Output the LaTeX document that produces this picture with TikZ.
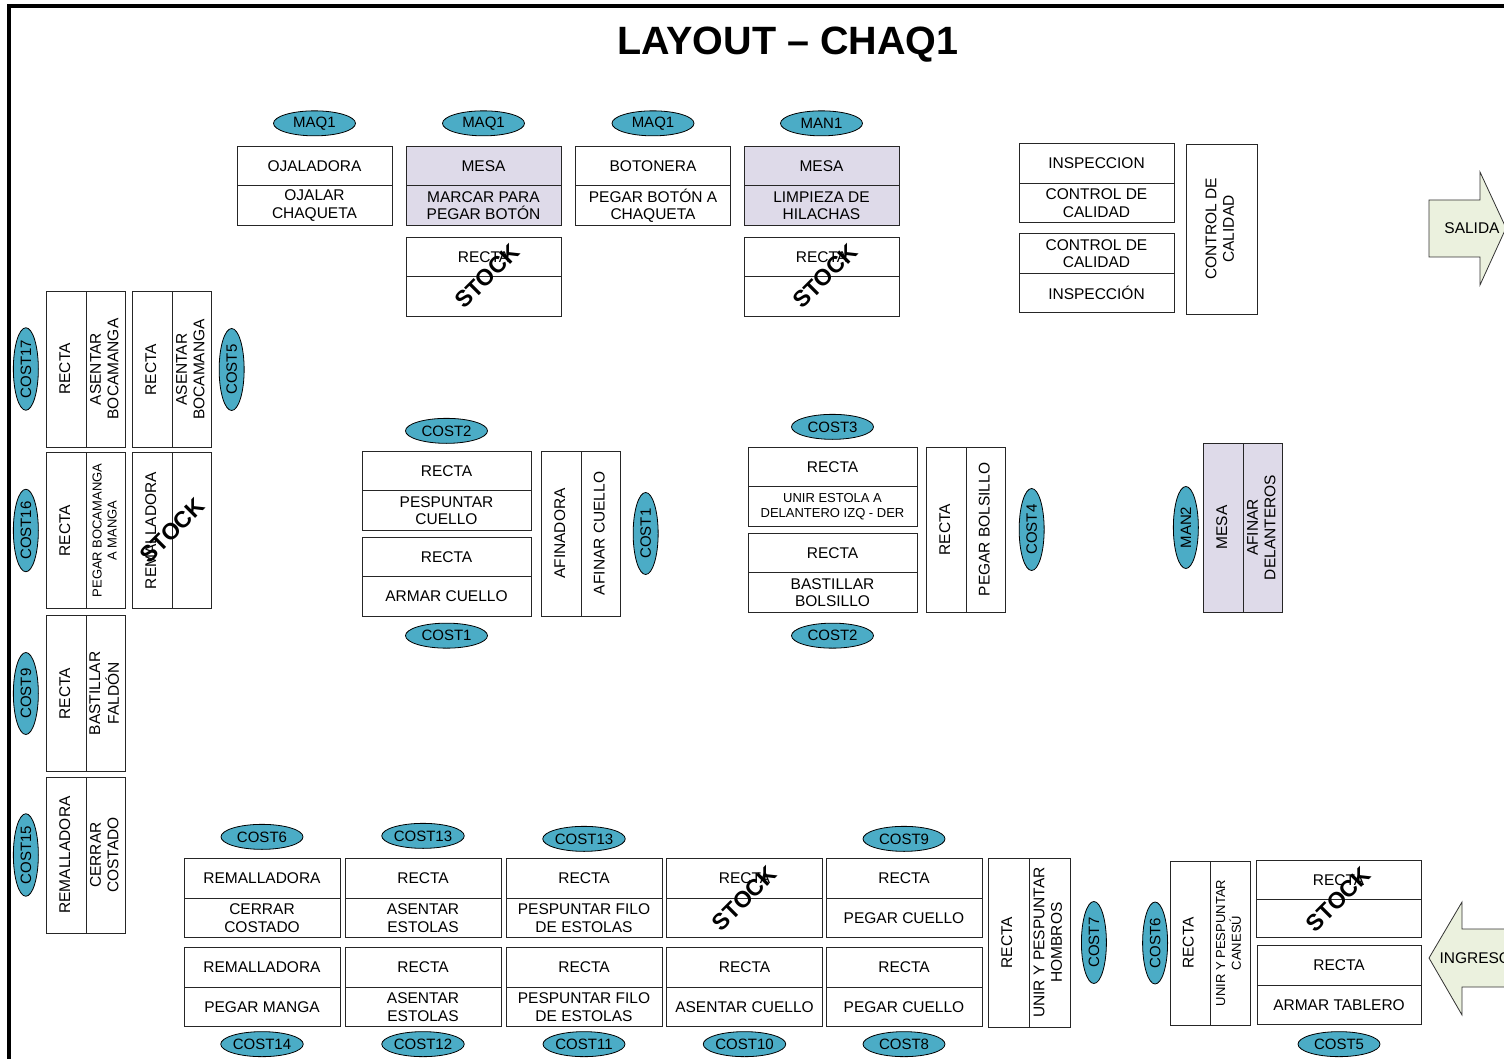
\documentclass[tikz,border=0pt]{standalone}
\usepackage{fontspec}
\setmainfont{Liberation Sans}
\usepackage{graphicx}
\usetikzlibrary{positioning,shapes.geometric}

\definecolor{maq}{RGB}{75,172,198}
\definecolor{lila}{RGB}{222,218,233}
\definecolor{flecha}{RGB}{235,241,222}

\newcommand{\vtexto}[1]{\rotatebox{90}{\begin{tabular}{@{}c@{}}#1\end{tabular}}}

\tikzset{
  caja/.style={draw=black!85, line width=0.8pt, minimum width=#1, minimum height=39.5pt,
    inner sep=0pt, outer sep=0pt, align=center, font=\fontsize{15.5}{17.5}\selectfont},
  caja/.default=155pt,
  vcaja/.style={draw=black!85, line width=0.8pt, minimum width=39.5pt, minimum height=#1,
    inner sep=0pt, outer sep=0pt, font=\fontsize{15.5}{17.5}\selectfont},
  vcaja/.default=156pt,
  maquina/.style={ellipse, draw, line width=0.8pt, fill=maq, minimum width=82pt,
    minimum height=25pt, inner sep=0pt, font=\fontsize{15}{15}\selectfont},
  vmaquina/.style={maquina, minimum width=25pt, minimum height=82pt},
  stock/.style={rotate=45, inner sep=0pt, font=\fontsize{23}{23}\selectfont\bfseries},
  chico/.style={font=\fontsize{13}{15}\selectfont}
}

\begin{document}
\begin{tikzpicture}[x=1pt, y=-1pt]
  \useasboundingbox (0,0) rectangle (1504,1059);
  \clip (0,0) rectangle (1504,1059);

  % Marco y titulo
  \draw[line width=3.5pt] (9,1070) -- (9,6) -- (1520,6);
  \node[anchor=base, font=\fontsize{39.5}{40}\selectfont\bfseries] (titulo) at (788,55) {LAYOUT – CHAQ1};

  % Fila superior
  \node[caja] (ojal-a) at (314.5,166) {OJALADORA};
  \node[caja, below=0pt of ojal-a] (ojal-b) {OJALAR\\CHAQUETA};
  \node[maquina, above=10pt of ojal-a] (m-ojal) {MAQ1};

  \node[caja, fill=lila] (marc-a) at (483.5,166) {MESA};
  \node[caja, fill=lila, below=0pt of marc-a] (marc-b) {MARCAR PARA\\PEGAR BOTÓN};
  \node[maquina, above=10pt of marc-a] (m-marc) {MAQ1};

  \node[caja] (boto-a) at (653,166) {BOTONERA};
  \node[caja, below=0pt of boto-a] (boto-b) {PEGAR BOTÓN A\\CHAQUETA};
  \node[maquina, above=10pt of boto-a] (m-boto) {MAQ1};

  \node[caja, fill=lila] (limp-a) at (821.5,166) {MESA};
  \node[caja, fill=lila, below=0pt of limp-a] (limp-b) {LIMPIEZA DE\\HILACHAS};
  \node[maquina, above=10pt of limp-a] (m-limp) {MAN1};

  % Stock debajo de las mesas
  \node[caja] (stk1-a) at (483.5,257) {RECTA};
  \node[caja, below=0pt of stk1-a] (stk1-b) {};
  \node[stock, xshift=3pt, yshift=-2pt] (stk1) at (stk1-a.south) {STOCK};
  \node[caja] (stk2-a) at (821.5,257) {RECTA};
  \node[caja, below=0pt of stk2-a] (stk2-b) {};
  \node[stock, xshift=3pt, yshift=-2pt] (stk2) at (stk2-a.south) {STOCK};

  % Inspeccion y control de calidad
  \node[caja] (insp1-a) at (1096.5,163.5) {INSPECCION};
  \node[caja, below=0pt of insp1-a] (insp1-b) {CONTROL DE\\CALIDAD};
  \node[caja] (insp2-a) at (1096.5,253.5) {CONTROL DE\\CALIDAD};
  \node[caja, below=0pt of insp2-a] (insp2-b) {INSPECCIÓN};
  \node[vcaja=170pt, minimum width=71pt] (ctrl) at (1221.5,229) {\vtexto{CONTROL DE\\CALIDAD}};

  % Salida
  \draw[fill=flecha, draw=black!80, line width=0.8pt] (1429,200) -- (1480,200) -- (1480,172) -- (1506,228)
    -- (1480,285) -- (1480,257) -- (1429,257) -- cycle;
  \node[font=\fontsize{15.5}{17}\selectfont] (salida) at (1472,228) {SALIDA};

  % Columna izquierda
  \node[vcaja] (r17-a) at (66.5,369) {\vtexto{RECTA}};
  \node[vcaja, right=0pt of r17-a] (r17-b) {\vtexto{ASENTAR\\BOCAMANGA}};
  \node[vmaquina, left=8pt of r17-a] (m-r17) {\rotatebox{90}{COST17}};

  \node[vcaja] (r5-a) at (152.5,369.5) {\vtexto{RECTA}};
  \node[vcaja, right=0pt of r5-a] (r5-b) {\vtexto{ASENTAR\\BOCAMANGA}};
  \node[vmaquina, right=7pt of r5-b] (m-r5) {\rotatebox{90}{COST5}};

  \node[vcaja] (r16-a) at (66.5,530.5) {\vtexto{RECTA}};
  \node[vcaja, right=0pt of r16-a, chico] (r16-b) {\vtexto{PEGAR BOCAMANGA\\A MANGA}};
  \node[vmaquina, left=8pt of r16-a] (m-r16) {\rotatebox{90}{COST16}};

  \node[vcaja] (rem-a) at (152.5,530.5) {\vtexto{REMALLADORA}};
  \node[vcaja, right=0pt of rem-a] (rem-b) {};
  \node[stock] (stk3) at (rem-a.east) {STOCK};

  \node[vcaja] (r9-a) at (66.5,693.5) {\vtexto{RECTA}};
  \node[vcaja, right=0pt of r9-a] (r9-b) {\vtexto{BASTILLAR\\FALDÓN}};
  \node[vmaquina, left=8pt of r9-a] (m-r9) {\rotatebox{90}{COST9}};

  \node[vcaja] (r15-a) at (66.5,855) {\vtexto{REMALLADORA}};
  \node[vcaja, right=0pt of r15-a] (r15-b) {\vtexto{CERRAR\\COSTADO}};
  \node[vmaquina, left=8pt of r15-a] (m-r15) {\rotatebox{90}{COST15}};

  % Cuello
  \node[caja=169pt] (pesp-a) at (446.5,471) {RECTA};
  \node[caja=169pt, below=0pt of pesp-a] (pesp-b) {PESPUNTAR\\CUELLO};
  \node[maquina, above=7.5pt of pesp-a] (m-pesp) {COST2};
  \node[caja=169pt] (arma-a) at (446.5,557) {RECTA};
  \node[caja=169pt, below=0pt of arma-a] (arma-b) {ARMAR CUELLO};
  \node[maquina, below=6.5pt of arma-b] (m-arma) {COST1};

  \node[vcaja=165pt] (afin-a) at (561.5,533.5) {\vtexto{AFINADORA}};
  \node[vcaja=165pt, right=0pt of afin-a] (afin-b) {\vtexto{AFINAR CUELLO}};
  \node[vmaquina, right=12pt of afin-b] (m-afin) {\rotatebox{90}{COST1}};

  % Estolas y bolsillo
  \node[caja=169pt] (esto-a) at (832.5,467) {RECTA};
  \node[caja=169pt, below=0pt of esto-a, chico] (esto-b) {UNIR ESTOLA A\\DELANTERO IZQ - DER};
  \node[maquina, above=7.5pt of esto-a] (m-esto) {COST3};
  \node[caja=169pt] (bols-a) at (832.5,553) {RECTA};
  \node[caja=169pt, below=0pt of bols-a] (bols-b) {BASTILLAR\\BOLSILLO};
  \node[maquina, below=10.5pt of bols-b] (m-bols) {COST2};

  \node[vcaja=165pt] (pbol-a) at (946.5,529.5) {\vtexto{RECTA}};
  \node[vcaja=165pt, right=0pt of pbol-a] (pbol-b) {\vtexto{PEGAR BOLSILLO}};
  \node[vmaquina, right=13pt of pbol-b] (m-pbol) {\rotatebox{90}{COST4}};

  % Mesa afinar delanteros
  \node[vcaja=169pt, fill=lila] (afde-a) at (1223.5,527.5) {\vtexto{MESA}};
  \node[vcaja=169pt, fill=lila, right=0pt of afde-a] (afde-b) {\vtexto{AFINAR\\DELANTEROS}};
  \node[vmaquina, left=5pt of afde-a] (m-afde) {\rotatebox{90}{MAN2}};

  % Fila inferior, parte de arriba
  \node[caja=156pt] (c1-a) at (262,878.5) {REMALLADORA};
  \node[caja=156pt, below=0pt of c1-a] (c1-b) {CERRAR\\COSTADO};
  \node[maquina, above=9pt of c1-a] (m-c1) {COST6};
  \node[caja=156pt] (c2-a) at (423,878.5) {RECTA};
  \node[caja=156pt, below=0pt of c2-a] (c2-b) {ASENTAR\\ESTOLAS};
  \node[maquina, above=10pt of c2-a] (m-c2) {COST13};
  \node[caja=156pt] (c3-a) at (584,878.5) {RECTA};
  \node[caja=156pt, below=0pt of c3-a] (c3-b) {PESPUNTAR FILO\\DE ESTOLAS};
  \node[maquina, above=7pt of c3-a] (m-c3) {COST13};
  \node[caja=156pt] (c4-a) at (744.5,878.5) {RECTA};
  \node[caja=156pt, below=0pt of c4-a] (c4-b) {};
  \node[stock] (stk4) at (c4-a.south) {STOCK};
  \node[caja=156pt] (c5-a) at (904,878.5) {RECTA};
  \node[caja=156pt, below=0pt of c5-a] (c5-b) {PEGAR CUELLO};
  \node[maquina, above=7pt of c5-a] (m-c5) {COST9};

  % Fila inferior, parte de abajo
  \foreach \n/\x/\ta/\tb/\m in {d1/262/REMALLADORA/PEGAR MANGA/COST14,
      d2/423/RECTA/{ASENTAR\\ESTOLAS}/COST12, d3/584/RECTA/{PESPUNTAR FILO\\DE ESTOLAS}/COST11,
      d4/744.5/RECTA/ASENTAR CUELLO/COST10, d5/904/RECTA/PEGAR CUELLO/COST8} {
    \node[caja=156pt] (\n-a) at (\x,967.5) {\ta};
    \node[caja=156pt, below=0pt of \n-a] (\n-b) {\tb};
    \node[maquina, below=4.5pt of \n-b] (m-\n) {\m};
  }

  % Hombros y canesu
  \node[vcaja=169pt, minimum width=41pt] (homb-a) at (1008.5,942.5) {\vtexto{RECTA}};
  \node[vcaja=169pt, minimum width=41pt, right=0pt of homb-a] (homb-b) {\vtexto{UNIR Y PESPUNTAR\\HOMBROS}};
  \node[vmaquina, right=11pt of homb-b] (m-homb) {\rotatebox{90}{COST7}};

  \node[vcaja=164pt, minimum width=40pt] (cane-a) at (1190,943) {\vtexto{RECTA}};
  \node[vcaja=164pt, minimum width=40pt, right=0pt of cane-a, chico] (cane-b) {\vtexto{UNIR Y PESPUNTAR\\CANESÚ}};
  \node[vmaquina, left=2pt of cane-a] (m-cane) {\rotatebox{90}{COST6}};

  \node[caja=165pt, minimum height=38.5pt] (stk5-a) at (1338.5,880) {RECTA};
  \node[caja=165pt, minimum height=38.5pt, below=0pt of stk5-a] (stk5-b) {};
  \node[stock] (stk5) at (stk5-a.south) {STOCK};
  \node[caja=164pt] (tabl-a) at (1339,965.5) {RECTA};
  \node[caja=164pt, below=0pt of tabl-a] (tabl-b) {ARMAR TABLERO};
  \node[maquina, below=6.5pt of tabl-b] (m-tabl) {COST5};

  % Ingreso
  \draw[fill=flecha, draw=black!80, line width=0.8pt] (1429,958) -- (1462,902) -- (1462,929) -- (1520,929)
    -- (1520,987) -- (1462,987) -- (1462,1015) -- cycle;
  \node[anchor=west, font=\fontsize{15.5}{17}\selectfont] (ingreso) at (1436,958) {INGRESO};
\end{tikzpicture}
\end{document}
